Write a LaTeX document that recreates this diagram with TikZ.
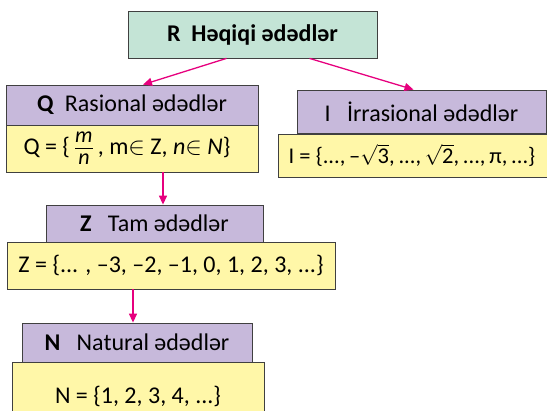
\documentclass[tikz,border=0pt]{standalone}
\usepackage{amsmath}
\usepackage{fontspec}
\setmainfont{Carlito}
\usepackage{tikz}
\usetikzlibrary{arrows.meta}

\newcommand{\fr}[2]{\ensuremath{\genfrac{}{}{0.7pt}{1}{\mbox{\fontsize{22}{22}\selectfont\raisebox{1.5pt}{\textit{#1}}}}{\mbox{\fontsize{22}{22}\selectfont\raisebox{-2pt}{\textit{#2}}}}}}
\newcommand{\rt}[1]{\ensuremath{\sqrt{\mbox{#1}}}}

\begin{document}
\begin{tikzpicture}[x=1pt,y=-1pt,
    box/.style={draw=black!75, line width=0.8pt, inner sep=0pt, font=\fontsize{24}{28}\selectfont},
    head/.style={box, fill=headcolor},
    setbox/.style={box, fill=setcolor},
    arr/.style={draw=arrowcolor, line width=1.3pt, -{Triangle[length=9pt,width=8pt]}}]

    \definecolor{topcolor}{RGB}{196,228,214}
    \definecolor{headcolor}{RGB}{199,185,219}
    \definecolor{setcolor}{RGB}{255,247,168}
    \definecolor{arrowcolor}{RGB}{230,0,126}

    \useasboundingbox (0,0) rectangle (547,411);
    \begin{scope}
    \clip (0,0) rectangle (547,411);

    % top box
    \node[box, fill=topcolor, minimum width=249pt, minimum height=47pt] (R) at (252.5,34.5)
        {\textbf{R\ \ Həqiqi ədədlər}};

    % rational numbers
    \node[head, minimum width=252pt, minimum height=40pt] (Q) at (132,105)
        {\textbf{Q}\ \ Rasional ədədlər};
    \node[setbox, minimum width=252pt, minimum height=47pt] (Qset) at (132,148.5)
        {\hspace*{-10pt}Q = \{\,\fr{m}{n}\,, m$\in$ Z, \textit{n}$\in$ \textit{N}\}};

    % irrational numbers
    \node[head, minimum width=249pt, minimum height=43pt] (I) at (421.5,111.5)
        {I\ \ \ İrrasional ədədlər};
    \node[setbox, minimum width=274pt, minimum height=43pt, font=\fontsize{22.5}{26}\selectfont] (Iset) at (415,155.5)
        {\hspace*{-6pt}\raisebox{-2pt}{I = \{...,\,–\rt{3},\,...,\,\rt{2},\,...,\,π,\,...\}}};

    % integers
    \node[head, minimum width=217pt, minimum height=37pt] (Z) at (154.5,223.5)
        {\textbf{Z}\ \ \ Tam ədədlər};
    \node[setbox, minimum width=328pt, minimum height=47pt] (Zset) at (171,265.5)
        {Z = \{... , –3, –2, –1, 0, 1, 2, 3, ...\}};

    % natural numbers
    \node[head, minimum width=230pt, minimum height=39pt] (N) at (137,342.5)
        {\textbf{N}\ \ \ Natural ədədlər};
    \node[setbox, minimum width=252pt, minimum height=66pt, text depth=0pt] (Nset) at (138,395)
        {N = \{1, 2, 3, 4, ...\}};
    \end{scope}

    % arrows
    \draw[arr] ([xshift=-26pt]R.south) -- ([xshift=11pt]Q.north);
    \draw[arr] ([xshift=57pt]R.south) -- ([xshift=-8pt]I.north);
    \draw[arr] ([xshift=31pt]Qset.south) -- ([xshift=8.5pt]Z.north);
    \draw[arr] ([xshift=-38pt]Zset.south) -- ([xshift=-4pt]N.north);
\end{tikzpicture}
\end{document}
